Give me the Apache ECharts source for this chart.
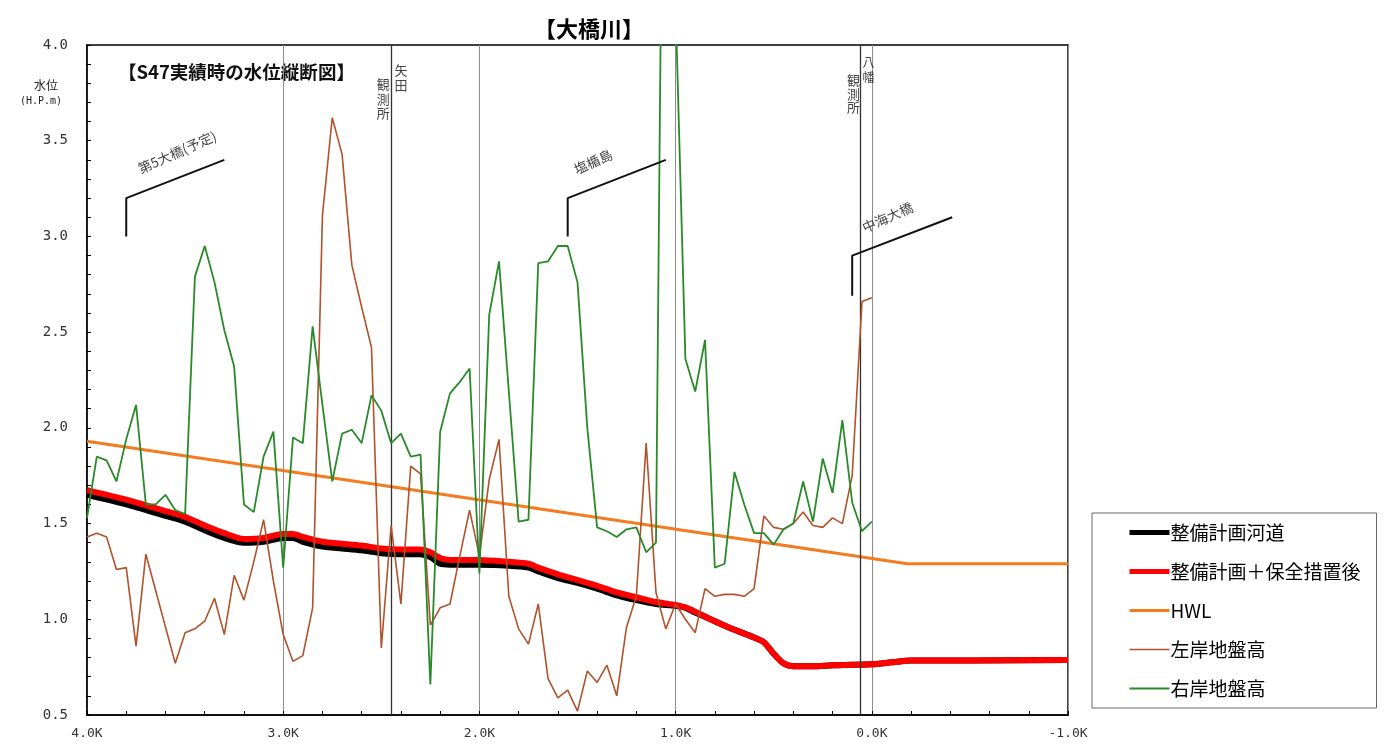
<!DOCTYPE html>
<html>
<head>
<meta charset="utf-8">
<script src="https://cdn.jsdelivr.net/npm/echarts@6/dist/echarts.min.js"></script>
<style>
html,body{margin:0;padding:0;background:#fff;}
#chart{width:1385px;height:746px;}
</style>
</head>
<body>
<div id="chart"></div>
<script>
// ---- distance (K) of bank survey points ----
const bankKm = [4.00,3.95,3.90,3.85,3.80,3.75,3.70,3.65,3.60,3.55,3.50,3.45,3.40,3.35,3.30,3.25,3.20,3.15,3.10,3.05,
  3.00,2.95,2.90,2.85,2.80,2.75,2.70,2.65,2.60,2.55,2.50,2.45,2.40,2.35,2.30,2.25,2.20,2.15,2.10,2.05,
  2.00,1.95,1.90,1.85,1.80,1.75,1.70,1.65,1.60,1.55,1.50,1.45,1.40,1.35,1.30,1.25,1.20,1.15,1.10,1.05,
  1.00,0.95,0.90,0.85,0.80,0.75,0.70,0.65,0.60,0.55,0.50,0.45,0.40,0.35,0.30,0.25,0.20,0.15,0.10,0.05,0.00];
// 左岸地盤高
const leftBank = [1.43,1.45,1.43,1.26,1.27,0.86,1.34,1.15,0.96,0.77,
  0.93,0.95,0.99,1.11,0.92,1.23,1.10,1.30,1.52,1.20,
  0.92,0.78,0.81,1.06,3.11,3.62,3.43,2.85,2.63,2.42,
  0.85,1.49,1.08,1.80,1.76,0.97,1.06,1.08,1.33,1.57,
  1.33,1.73,1.94,1.12,0.95,0.87,1.08,0.69,0.59,0.63,
  0.52,0.73,0.67,0.76,0.60,0.96,1.12,1.92,1.14,0.95,
  1.08,1.00,0.93,1.16,1.12,1.13,1.13,1.12,1.16,1.54,
  1.48,1.47,1.50,1.56,1.49,1.48,1.53,1.50,1.75,2.66,
  2.68];
// 右岸地盤高
const rightBank = [1.53,1.85,1.83,1.72,1.94,2.12,1.60,1.60,1.65,1.57,
  1.55,2.79,2.95,2.76,2.51,2.32,1.60,1.56,1.85,1.98,
  1.27,1.95,1.92,2.53,2.12,1.72,1.97,1.99,1.92,2.17,
  2.09,1.92,1.97,1.85,1.86,0.66,1.98,2.18,2.24,2.31,
  1.24,2.59,2.87,2.19,1.51,1.52,2.86,2.87,2.95,2.95,
  2.76,2.00,1.48,1.46,1.43,1.47,1.48,1.35,1.40,7.00,
  4.20,2.36,2.19,2.46,1.27,1.29,1.77,1.60,1.45,1.45,
  1.39,1.47,1.50,1.72,1.51,1.84,1.66,2.04,1.61,1.46,
  1.51];
// 計画水位
const planKm = [4.00,3.80,3.60,3.50,3.40,3.30,3.20,3.10,3.00,2.95,2.90,2.80,2.70,2.60,2.50,2.40,2.30,2.25,2.20,2.15,
  2.00,1.85,1.75,1.70,1.60,1.50,1.40,1.30,1.20,1.10,1.00,0.95,0.90,0.80,0.70,0.60,0.55,0.50,0.45,0.40,
  0.30,0.20,0.10,0.00,-0.10,-0.20,-0.50,-1.00];
const planRiver = [1.65,1.60,1.54,1.51,1.465,1.425,1.40,1.405,1.425,1.425,1.405,1.38,1.37,1.36,1.345,1.34,1.34,1.325,1.29,1.285,
  1.285,1.28,1.27,1.25,1.215,1.19,1.16,1.125,1.10,1.08,1.07,1.06,1.035,0.99,0.945,0.905,0.88,0.82,0.77,0.755,
  0.755,0.76,0.762,0.765,0.775,0.785,0.785,0.787];
const planProtect = [1.675,1.625,1.565,1.535,1.49,1.45,1.42,1.425,1.445,1.445,1.43,1.405,1.395,1.385,1.37,1.365,1.365,1.35,1.32,1.31,
  1.31,1.30,1.29,1.27,1.235,1.205,1.175,1.14,1.115,1.09,1.075,1.062,1.04,0.99,0.945,0.905,0.88,0.82,0.77,0.755,
  0.755,0.76,0.762,0.765,0.775,0.785,0.785,0.787];
// HWL
const hwlKm = [4.00,-0.18,-1.00];
const hwl = [1.93,1.29,1.29];
// 観測所
const stationKm = [2.45, 0.055];
const stationNames = ['矢田', '八幡'];
// 橋 annotations
const bridgeNames = ['第5大橋(予定)', '塩楯島', '中海大橋'];
const bridgeFootKm = [3.80, 1.55, 0.10];
const bridgeFootLow = [3.00, 3.00, 2.69];
const bridgeFootHigh = [3.20, 3.20, 2.90];
const bridgeArmKm = [3.30, 1.05, -0.41];
const bridgeArmLevel = [3.40, 3.40, 3.10];
const bridgeLabelKm = [3.54, 1.42, -0.08];
const bridgeLabelLevel = [3.44, 3.39, 3.10];
// legend
const legendNames = ['整備計画河道', '整備計画＋保全措置後', 'HWL', '左岸地盤高', '右岸地盤高'];
const legendWidths = [5, 5, 3, 1.6, 1.8];

const zip = (a, b) => a.map((v, i) => [v, b[i]]);
const JP = '"Noto Sans CJK JP", "Noto Sans", sans-serif';
const MONO = '"DejaVu Sans Mono", monospace';

const series = [
  { name: legendNames[0], type: 'line', data: zip(planKm, planRiver), symbol: 'none', smooth: 0.25,
    lineStyle: { color: '#000', width: 6 }, itemStyle: { color: '#000' }, z: 2 },
  { name: legendNames[1], type: 'line', data: zip(planKm, planProtect), symbol: 'none', smooth: 0.25,
    lineStyle: { color: '#ff0000', width: 6 }, itemStyle: { color: '#ff0000' }, z: 3 },
  { name: legendNames[2], type: 'line', data: zip(hwlKm, hwl), symbol: 'none',
    lineStyle: { color: '#f47b20', width: 3 }, itemStyle: { color: '#f47b20' }, z: 4 },
  { name: legendNames[3], type: 'line', data: zip(bankKm, leftBank), symbol: 'none',
    lineStyle: { color: '#b0522b', width: 1.6 }, itemStyle: { color: '#b0522b' }, z: 5 },
  { name: legendNames[4], type: 'line', data: zip(bankKm, rightBank), symbol: 'none',
    lineStyle: { color: '#2a8a2a', width: 1.8 }, itemStyle: { color: '#2a8a2a' }, z: 6 },
  { name: 'stations', type: 'line', data: [], silent: true, z: 7,
    markLine: { silent: true, symbol: 'none', animation: false, label: { show: false },
      lineStyle: { color: '#333', width: 1.3, type: 'solid' },
      data: stationKm.map(k => ({ xAxis: k })) } }
];
bridgeNames.forEach((n, i) => {
  series.push({ name: 'bridge' + i, type: 'line', symbol: 'none', silent: true, z: 8,
    lineStyle: { color: '#111', width: 2 },
    data: [[bridgeFootKm[i], bridgeFootLow[i]], [bridgeFootKm[i], bridgeFootHigh[i]], [bridgeArmKm[i], bridgeArmLevel[i]]] });
});
const labelData = [];
bridgeNames.forEach((n, i) => {
  labelData.push({ value: [bridgeLabelKm[i], bridgeLabelLevel[i]],
    label: { formatter: n, rotate: 24, fontSize: 13.5 } });
});
labelData.push({ value: [2.49, 3.72], label: { formatter: '観\n測\n所', fontSize: 13, lineHeight: 14.5 } });
labelData.push({ value: [2.40, 3.83], label: { formatter: stationNames[0].split('').join('\n'), fontSize: 13, lineHeight: 14.5 } });
labelData.push({ value: [0.093, 3.745], label: { formatter: '観\n測\n所', fontSize: 13, lineHeight: 13.5 } });
labelData.push({ value: [0.017, 3.87], label: { formatter: stationNames[1].split('').join('\n'), fontSize: 12, lineHeight: 15 } });
series.push({ name: 'labels', type: 'scatter', silent: true, symbolSize: 1, z: 9,
  itemStyle: { color: 'rgba(0,0,0,0)' },
  label: { show: true, position: 'inside', color: '#111', fontFamily: JP },
  emphasis: { disabled: true },
  data: labelData });

const chart = echarts.init(document.getElementById('chart'));
chart.setOption({
  animation: false,
  backgroundColor: '#fff',
  title: { text: '【大橋川】', left: 584, top: 13, textAlign: 'center',
    textStyle: { fontFamily: JP, fontSize: 22, fontWeight: 'bold', color: '#000' } },
  graphic: [
    { type: 'text', left: 118, top: 63, style: { text: '【S47実績時の水位縦断図】', font: 'bold 18.5px ' + JP, fill: '#111' } },
    { type: 'text', left: 34, top: 79, style: { text: '水位', font: '12px ' + JP, fill: '#222' } },
    { type: 'text', left: 20, top: 96, style: { text: '(H.P.m)', font: '10px ' + MONO, fill: '#222' } }
  ],
  legend: {
    orient: 'vertical', left: 1092, top: 513,
    data: legendNames.map((n, i) => ({ name: n, lineStyle: { width: legendWidths[i] } })),
    itemWidth: 40, itemHeight: 20, itemGap: 20,
    padding: [10, 16, 10, 35],
    borderColor: '#666', borderWidth: 1,
    itemStyle: { opacity: 0 },
    textStyle: { fontFamily: JP, fontSize: 19, color: '#000', padding: [0, 0, 0, -4] }
  },
  grid: { left: 87, right: 317, top: 45, bottom: 31, show: true, borderColor: '#000', borderWidth: 1.5 },
  xAxis: {
    type: 'value', min: -1, max: 4, interval: 1, inverse: true,
    axisLine: { show: true, onZero: false, lineStyle: { color: '#000', width: 1.5 } },
    axisTick: { show: true, inside: true, length: 4, lineStyle: { color: '#000' } },
    minorTick: { show: true, splitNumber: 5, length: 4, lineStyle: { color: '#000' } },
    axisLabel: { formatter: v => v.toFixed(1) + 'K', fontFamily: MONO, fontSize: 13, color: '#333', margin: 12 },
    splitLine: { show: true, lineStyle: { color: '#8c8c8c', width: 1 } }
  },
  yAxis: {
    type: 'value', min: 0.5, max: 4.0, interval: 0.5,
    axisLine: { show: true, onZero: false, lineStyle: { color: '#000', width: 1.5 } },
    axisTick: { show: true, inside: true, length: 4, lineStyle: { color: '#000' } },
    minorTick: { show: true, splitNumber: 5, length: 4, lineStyle: { color: '#000' } },
    axisLabel: { formatter: v => v.toFixed(1), fontFamily: MONO, fontSize: 14, color: '#333', margin: 19 },
    splitLine: { show: false }
  },
  series: series
});
</script>
</body>
</html>
